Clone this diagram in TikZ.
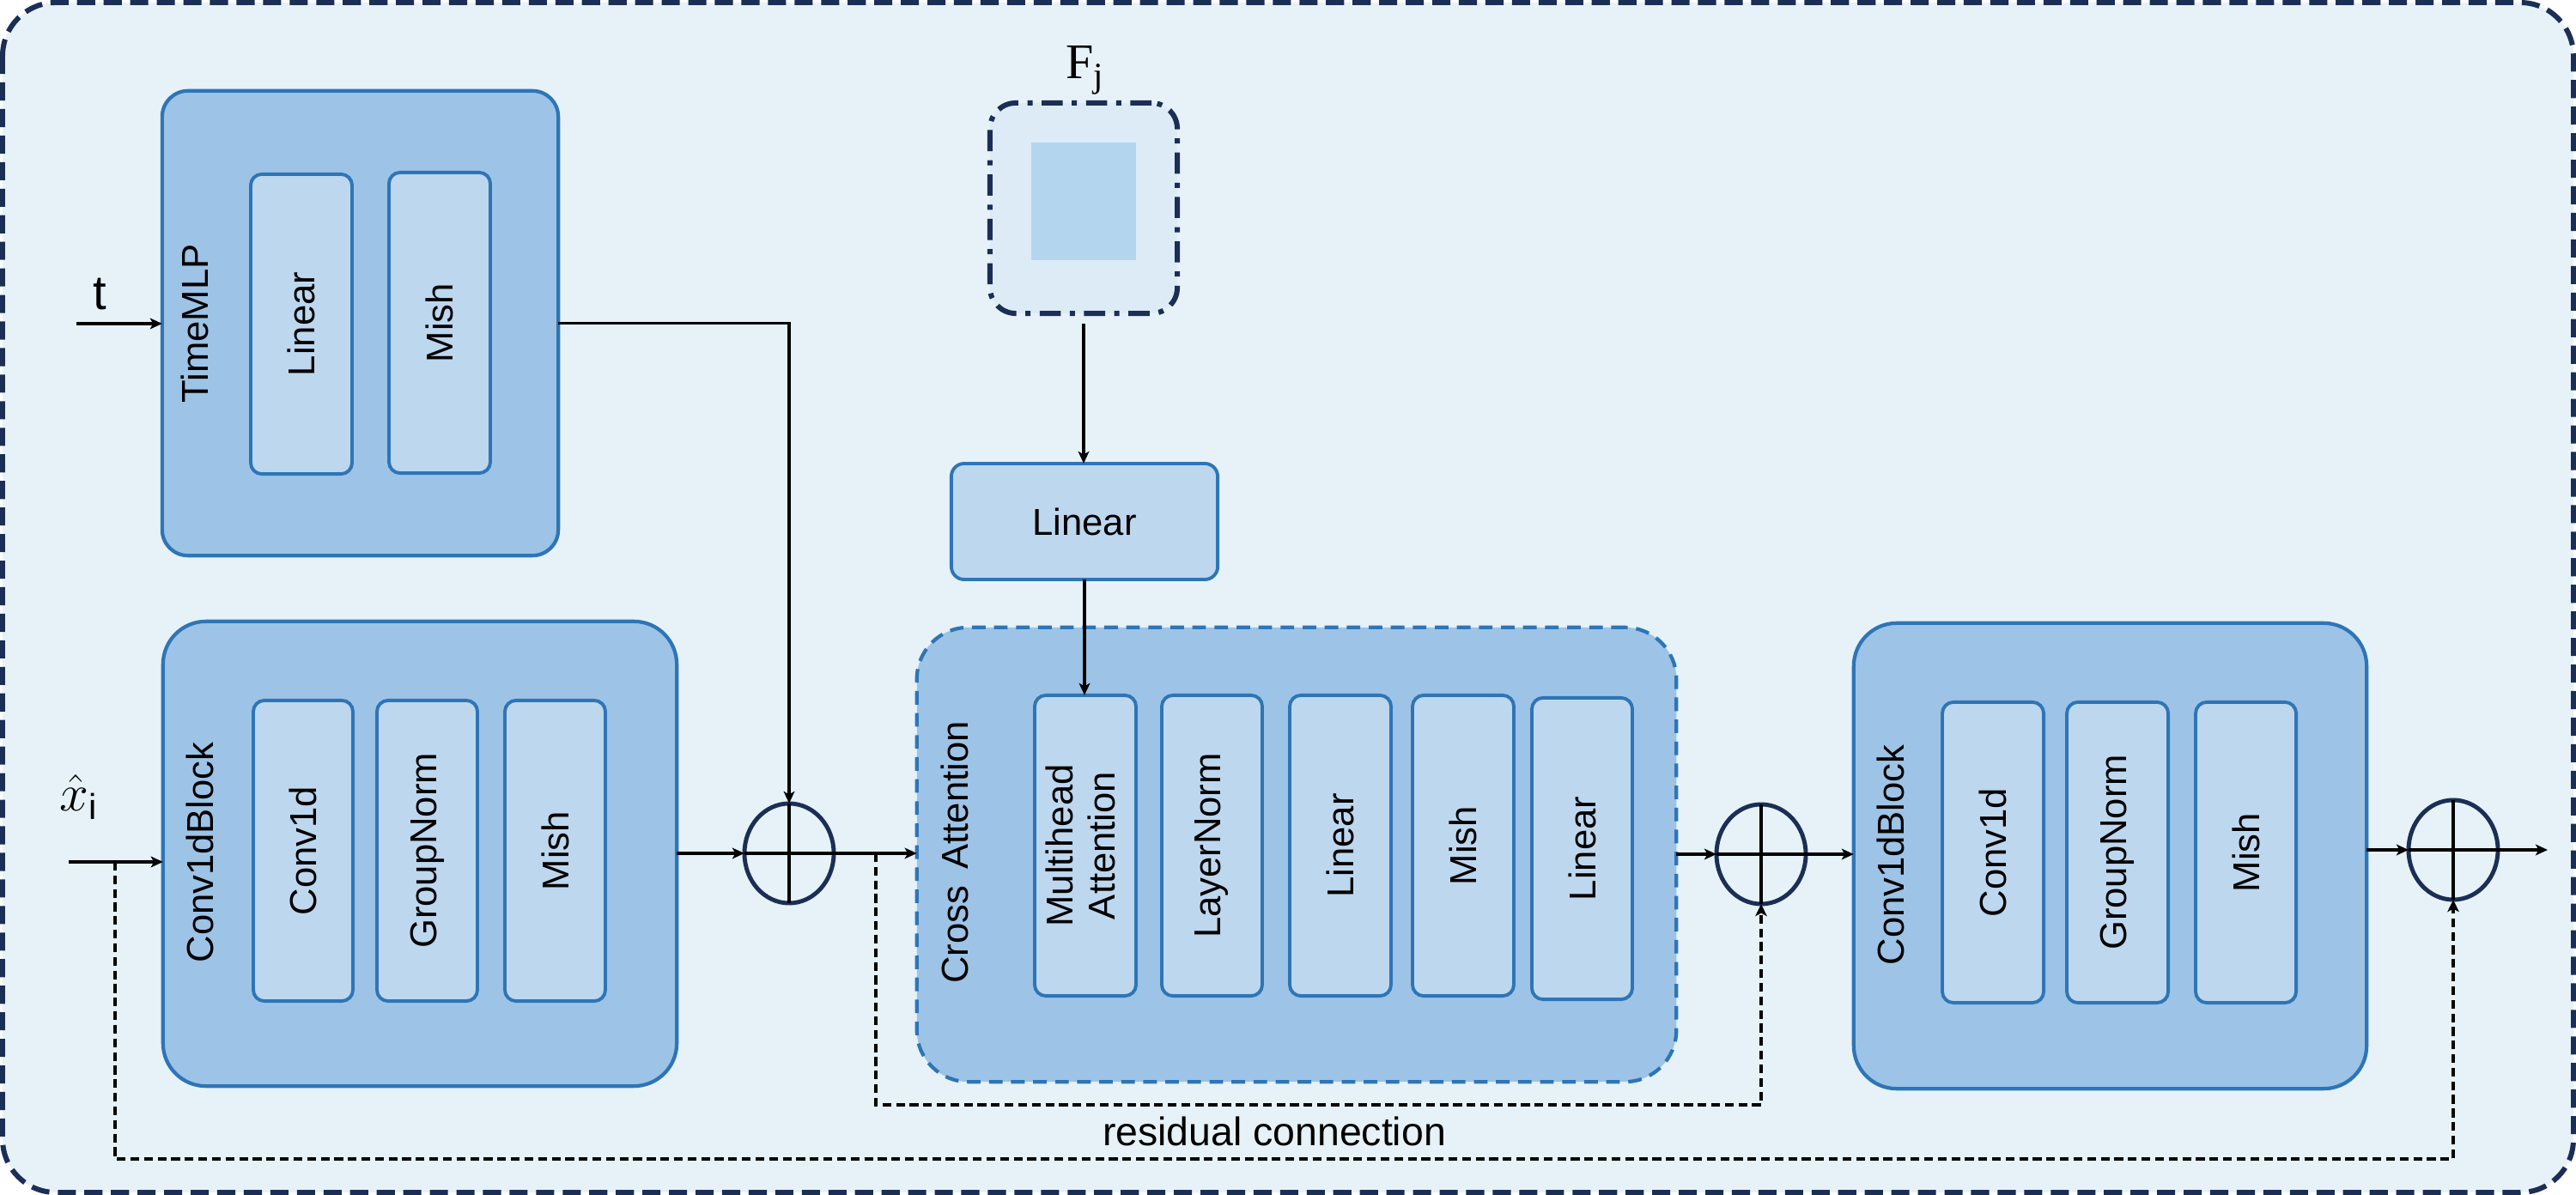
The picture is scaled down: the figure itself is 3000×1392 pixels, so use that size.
\documentclass[tikz,border=0pt]{standalone}
\usepackage{fontspec}
\usepackage{graphicx}
\setmainfont{Liberation Sans}
\newfontfamily\serifF{Liberation Serif}
\usetikzlibrary{arrows.meta,calc,shapes.geometric}
\definecolor{bgc}{HTML}{E6F2F8}
\definecolor{navy}{HTML}{1B2E55}
\definecolor{bigfill}{HTML}{9DC3E6}
\definecolor{boxblue}{HTML}{2E75B6}
\definecolor{infill}{HTML}{BDD7EE}
\definecolor{ffill}{HTML}{DDEBF7}
\definecolor{sqc}{HTML}{B4D5EE}
\tikzset{
  bigbox/.style={draw=boxblue, fill=bigfill, line width=1.2pt, rounded corners=0.5cm, inner sep=0pt, outer sep=0pt},
  inbox/.style={draw=boxblue, fill=infill, line width=1.1pt, rounded corners=0.13cm, inner sep=0pt, outer sep=0pt, font=\fontsize{12.4}{14}\selectfont},
  blklbl/.style={font=\fontsize{12.4}{14}\selectfont, inner sep=0pt},
  sumnode/.style={ellipse, draw=navy, line width=1.4pt, minimum width=1.04cm, minimum height=1.16cm, inner sep=0pt, outer sep=0pt},
  plusline/.style={line width=1.1pt, black},
  arr/.style={-{Stealth[length=4pt,width=3.6pt,inset=1pt]}, line width=1.1pt, black},
  resline/.style={line width=1.05pt, black, dash pattern=on 2.9pt off 1.6pt},
}
\begin{document}
\begin{tikzpicture}[x=0.01cm,y=-0.01cm]
\useasboundingbox (0,0) rectangle (3000,1392);
% outer frame
\draw[fill=bgc, draw=navy, line width=1.7pt, dash pattern=on 6pt off 2.8pt, rounded corners=0.62cm] (3,3) rectangle (2997,1389);

% TimeMLP
\node[bigbox, rounded corners=0.3cm, minimum width=4.61cm, minimum height=5.41cm] (tm) at (419.5,376.5) {};
\node[blklbl, rotate=90] (tmlbl) at (227,377) {TimeMLP};
\node[inbox, minimum width=1.18cm, minimum height=3.49cm] (tmlin) at (351,377.5) {\rotatebox{90}{Linear}};
\node[inbox, minimum width=1.18cm, minimum height=3.50cm] (tmmish) at (512,376) {\rotatebox{90}{Mish}};

% Conv1dBlock 1
\node[bigbox, minimum width=5.98cm, minimum height=5.41cm] (cb1) at (489,994.5) {};
\node[blklbl, rotate=90] (cb1lbl) at (233,993) {Conv1dBlock};
\node[inbox, minimum width=1.16cm, minimum height=3.50cm] (cb1a) at (353,991) {\rotatebox{90}{Conv1d}};
\node[inbox, minimum width=1.17cm, minimum height=3.50cm] (cb1b) at (497.5,991) {\rotatebox{90}{GroupNorm}};
\node[inbox, minimum width=1.17cm, minimum height=3.50cm] (cb1c) at (646.5,991) {\rotatebox{90}{Mish}};

% Cross Attention
\node[bigbox, rounded corners=0.6cm, draw=boxblue, dash pattern=on 4.5pt off 2.8pt, minimum width=8.84cm, minimum height=5.29cm] (ca) at (1510,995.5) {};
\node[blklbl, rotate=90] (calbl) at (1112,993) {Cross\;\,Attention};
\node[inbox, minimum width=1.18cm, minimum height=3.50cm] (mha) at (1264,985) {\rotatebox{90}{\begin{tabular}{@{}c@{}}Multihead\\Attention\end{tabular}}};
\node[inbox, minimum width=1.17cm, minimum height=3.50cm] (ln) at (1411.5,985) {\rotatebox{90}{LayerNorm}};
\node[inbox, minimum width=1.18cm, minimum height=3.50cm] (calin1) at (1561,985) {\rotatebox{90}{Linear}};
\node[inbox, minimum width=1.18cm, minimum height=3.50cm] (camish) at (1704,985) {\rotatebox{90}{Mish}};
\node[inbox, minimum width=1.17cm, minimum height=3.51cm] (calin2) at (1842.5,988.5) {\rotatebox{90}{Linear}};

% Conv1dBlock 2
\node[bigbox, minimum width=5.97cm, minimum height=5.42cm] (cb2) at (2457.5,997) {};
\node[blklbl, rotate=90] (cb2lbl) at (2202,996) {Conv1dBlock};
\node[inbox, minimum width=1.18cm, minimum height=3.50cm] (cb2a) at (2321,993) {\rotatebox{90}{Conv1d}};
\node[inbox, minimum width=1.18cm, minimum height=3.50cm] (cb2b) at (2466,993) {\rotatebox{90}{GroupNorm}};
\node[inbox, minimum width=1.17cm, minimum height=3.50cm] (cb2c) at (2615.5,993) {\rotatebox{90}{Mish}};

% F_j box and Linear
\node[draw=navy, fill=ffill, line width=1.7pt, dash pattern=on 7pt off 3pt on 1.7pt off 3pt, rounded corners=0.3cm, minimum width=2.18cm, minimum height=2.45cm, inner sep=0pt, outer sep=0pt] (fj) at (1262,242.5) {};
\node[fill=sqc, minimum width=1.22cm, minimum height=1.37cm, inner sep=0pt] (fsq) at (1262,234.5) {};
\node[anchor=base, inner sep=0pt, font=\fontsize{16.5}{19}\selectfont] (fjl) at (1264,92) {\serifF F\textsubscript{j}};
\node[inbox, rounded corners=0.15cm, minimum width=3.10cm, minimum height=1.35cm] (lin) at (1263,607.5) {Linear};

% sum nodes
\node[sumnode] (c1) at (919,994) {};
\node[sumnode] (c2) at (2051,995) {};
\node[sumnode] (c3) at (2857,990) {};
\foreach \c in {c1,c2,c3}{
  \draw[plusline] (\c.north) -- (\c.south);
  \draw[plusline] (\c.west) -- (\c.east);
}

% inputs
\coordinate (tin) at (89,377);
\coordinate (xin) at (80,1004);
\coordinate (xbr) at (134,1004);
\coordinate (cabr) at (1020,994);
\coordinate (out) at (2967,990);
\node[anchor=base, inner sep=0pt, font=\fontsize{16}{19}\selectfont] (tlbl) at (116,361) {t};
\node[anchor=base, inner sep=0pt, font=\fontsize{17}{20}\selectfont] (xlbl) at (92,945) {$\hat{x}_{\mathrm{i}}$};

% connectors
\draw[arr] (tin) -- (tin -| tm.west);
\draw[arr] (tm.east) -| (c1.north);
\draw[arr] (xin) -- (xin -| cb1.west);
\draw[arr] (cb1.east |- c1.west) -- (c1.west);
\draw[arr] (c1.east) -- (c1.east -| ca.west);
\draw[arr] (ca.east |- c2.west) -- (c2.west);
\draw[arr] (c2.east) -- (c2.east -| cb2.west);
\draw[arr] (cb2.east |- c3.west) -- (c3.west);
\draw[arr] (c3.east) -- (out);
\draw[arr, shorten <=0.12cm] (fj.south) -- (fj.south |- lin.north);
\draw[arr] (lin.south) -- (lin.south |- mha.north);

% residuals
\draw[resline, -{Stealth[length=4pt,width=3.8pt,inset=1pt]}] (xbr) -- (134,1350) -| (c3.south);
\draw[resline, -{Stealth[length=4pt,width=3.8pt,inset=1pt]}] (cabr) -- (1020,1287) -| (c2.south);
\node[font=\fontsize{13.2}{16}\selectfont, inner sep=0pt] (reslbl) at (1484,1318) {residual connection};
\end{tikzpicture}
\end{document}
